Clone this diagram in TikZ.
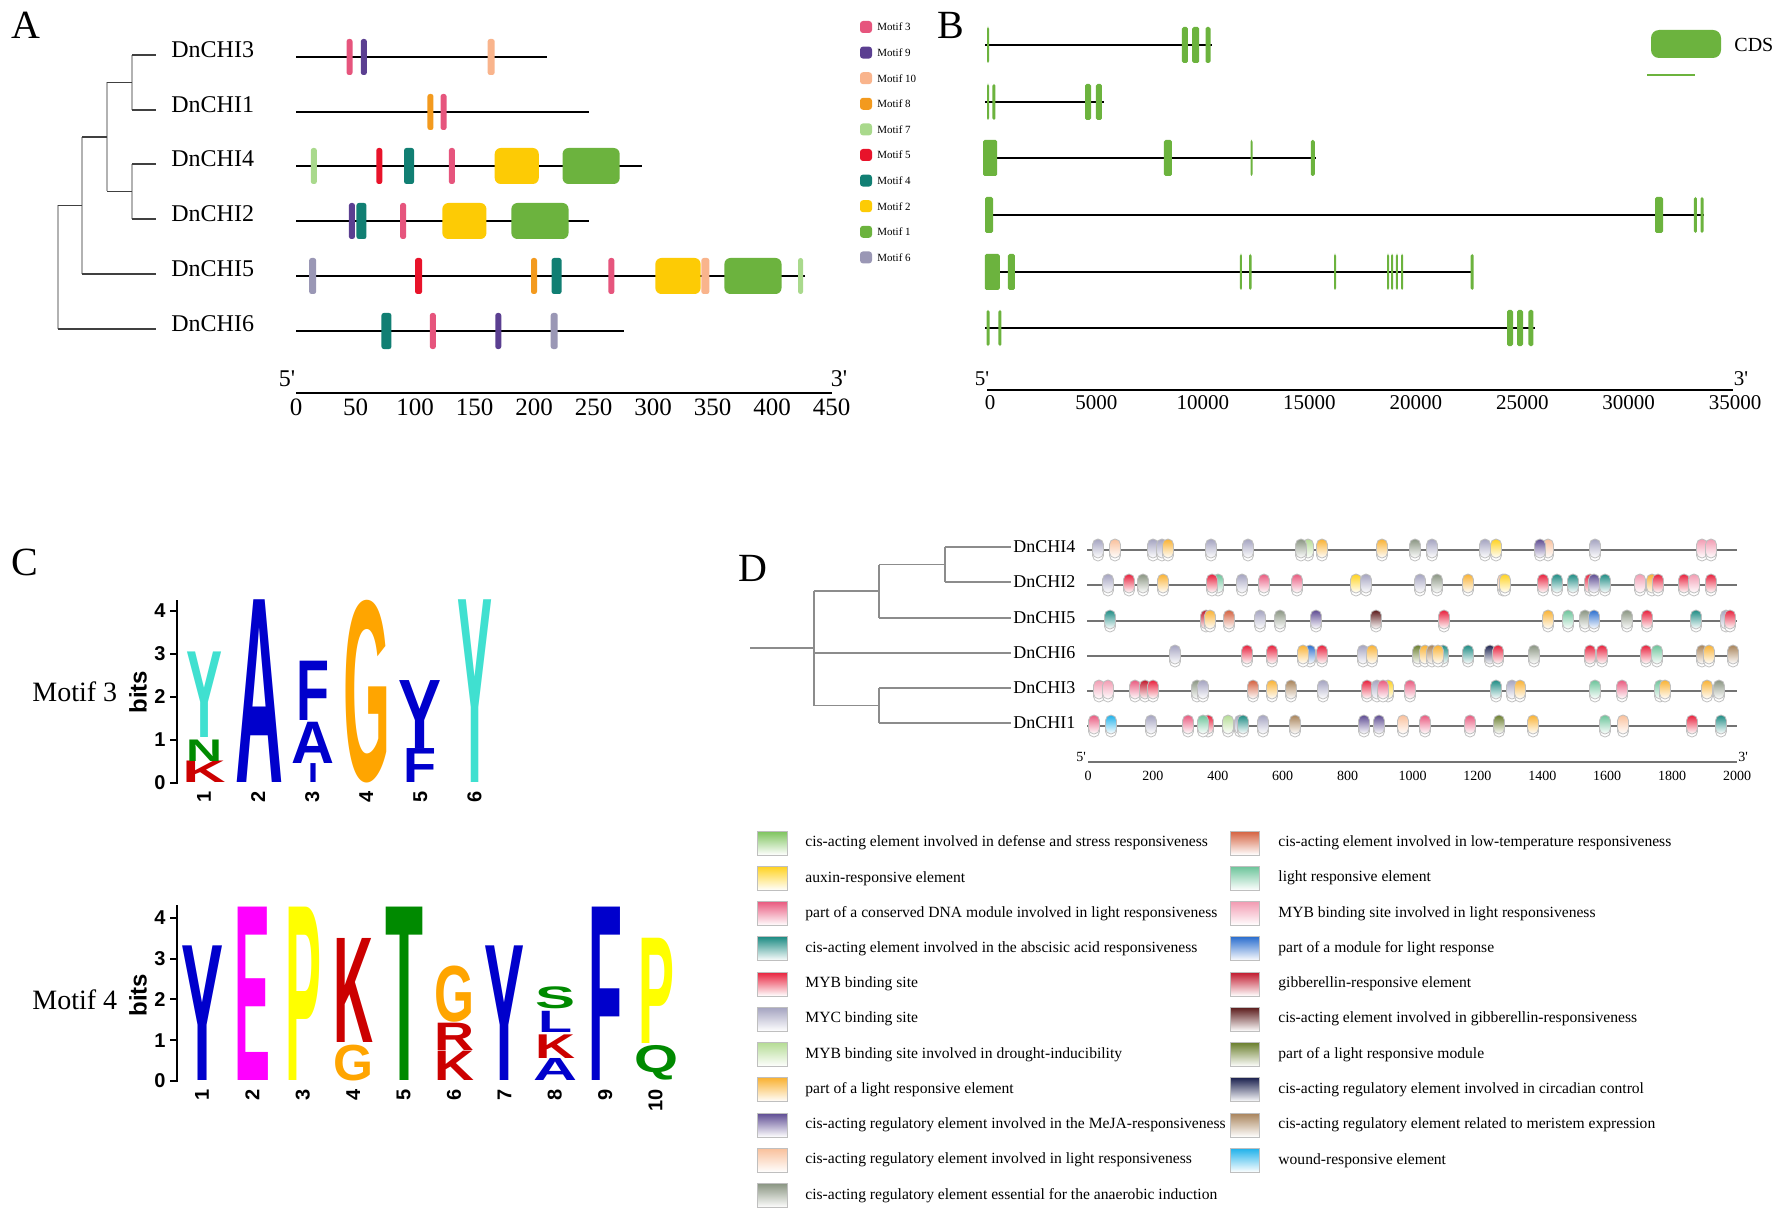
\documentclass[tikz,border=0pt]{standalone}
\usepackage{fontspec}
\setmainfont{Liberation Serif}
\setsansfont{Liberation Sans}
\usepackage{graphicx}
\usetikzlibrary{positioning}

% motif colours (panel A)
\definecolor{mone}{HTML}{6CB33E}
\definecolor{mtwo}{HTML}{FDCB05}
\definecolor{mthree}{HTML}{E6557D}
\definecolor{mfour}{HTML}{117F73}
\definecolor{mfive}{HTML}{E8132A}
\definecolor{msix}{HTML}{9A97B5}
\definecolor{mseven}{HTML}{A9D98C}
\definecolor{meight}{HTML}{F39A1E}
\definecolor{mnine}{HTML}{5B3F91}
\definecolor{mten}{HTML}{F9B48C}
% logo colours (panel C)
\definecolor{lred}{HTML}{CC0000}
\definecolor{lgreen}{HTML}{008A00}
\definecolor{lblue}{HTML}{0000CC}
\definecolor{lcyan}{HTML}{40E0D0}
\definecolor{lorange}{HTML}{FFA500}
\definecolor{lmag}{HTML}{FF00FF}
\definecolor{lyellow}{HTML}{FFFF00}
% cis-element colours (panel D)
\definecolor{dDef}{HTML}{7CC35B}
\definecolor{dAux}{HTML}{FFD21F}
\definecolor{dDNA}{HTML}{E95A7F}
\definecolor{dABA}{HTML}{1E8C84}
\definecolor{dMYB}{HTML}{E8203C}
\definecolor{dMYC}{HTML}{A4A3C0}
\definecolor{dDrought}{HTML}{B5DC95}
\definecolor{dLRE}{HTML}{F9B233}
\definecolor{dMeJA}{HTML}{5D4B92}
\definecolor{dLight}{HTML}{F9C09B}
\definecolor{dAnae}{HTML}{8A9582}
\definecolor{dLowT}{HTML}{D4603E}
\definecolor{dLR}{HTML}{6CC49A}
\definecolor{dMYBL}{HTML}{F29BB2}
\definecolor{dMod}{HTML}{2C6FCF}
\definecolor{dGA}{HTML}{C0172B}
\definecolor{dGAr}{HTML}{5A1A1A}
\definecolor{dLRM}{HTML}{6B7F2E}
\definecolor{dCirc}{HTML}{1D2350}
\definecolor{dMer}{HTML}{A8835A}
\definecolor{dWound}{HTML}{1FB1EA}

\tikzset{
    panel/.style={inner sep=0pt, font=\fontsize{20}{22}\selectfont},
    treeh/.style={draw=black!75, line width=0.75pt},
    treev/.style={draw=black!30, line width=0.75pt},
    alab/.style={anchor=west, inner sep=0pt, font=\fontsize{12}{14}\selectfont},
    protline/.style={line width=1.25pt},
    geneline/.style={line width=1pt},
    axlab/.style={anchor=north, inner sep=0pt, font=\fontsize{12.5}{14}\selectfont},
    bxlab/.style={anchor=north, inner sep=0pt, font=\fontsize{10.5}{12}\selectfont},
    primes/.style={inner sep=0pt, font=\fontsize{12}{14}\selectfont},
    mlab/.style={anchor=west, inner sep=0pt, font=\fontsize{5.5}{6}\selectfont},
    cds/.style={fill=mone, rounded corners=0.8pt},
    logo/.style={inner sep=0pt, anchor=south, font=\sffamily\bfseries\fontsize{20}{20}\selectfont},
    ticklab/.style={anchor=east, inner sep=0pt, font=\sffamily\bfseries\fontsize{10}{10}\selectfont},
    numlab/.style={rotate=90, anchor=east, inner sep=0pt, font=\sffamily\bfseries\fontsize{10}{10}\selectfont},
    dtree/.style={draw=black!45, line width=0.75pt},
    dline/.style={draw=black!55, line width=1.2pt},
    dlab/.style={anchor=west, inner sep=0pt, font=\fontsize{9}{11}\selectfont},
    dax/.style={anchor=north, inner sep=0pt, font=\fontsize{7}{8}\selectfont},
    leglab/.style={anchor=west, inner sep=0pt, font=\fontsize{7.8}{9}\selectfont}
}

% one cis-element capsule with its faint shadow
\newcommand{\cispill}[3]{%
    \draw[black!25, fill=white, rounded corners=2.7pt] (#1-5.5,#2-7) rectangle (#1+5.5,#2+11);
    \shade[top color=#3, bottom color=white, draw=black!25, rounded corners=2.7pt] (#1-5.5,#2-11) rectangle (#1+5.5,#2+8);
}

\begin{document}
\begin{tikzpicture}[x=0.5pt, y=-0.5pt]
\useasboundingbox (0,0) rectangle (1772,1209);
\fill[white] (0,0) rectangle (1772,1209);

\node[panel] (pa) at (26,25) {A};
\node[panel] (pb) at (951,25) {B};
\node[panel] (pc) at (25,562) {C};
\node[panel] (pd) at (753,568) {D};

% ---------------- A: tree
\coordinate (a3) at (156,55);
\coordinate (a1) at (156,110);
\coordinate (a4) at (156,164);
\coordinate (a2) at (156,219);
\coordinate (a5) at (156,274);
\coordinate (a6) at (156,329);
\coordinate (n31) at (132,82.5);
\coordinate (n42) at (132,191.5);
\coordinate (n14) at (107,137);
\coordinate (n5) at (82,205.5);
\coordinate (n6) at (58,267);
\draw[treev] (n31 |- a3) -- (n31 |- a1);
\draw[treev] (n42 |- a4) -- (n42 |- a2);
\draw[treev] (n14 |- n31) -- (n14 |- n42);
\draw[treev] (n5 |- n14) -- (n5 |- a5);
\draw[treev] (n6 |- n5) -- (n6 |- a6);
\foreach \a/\b in {n31/a3, n31/a1, n42/a4, n42/a2, n5/a5, n6/a6, n14/n31, n14/n42, n5/n14, n6/n5}
    \draw[treeh] (\a |- \b) -- (\b);

\foreach \n/\y in {3/50, 1/105, 4/159, 2/214, 5/269, 6/324}
    \node[alab] (la\n) at (171,\y) {DnCHI\n};

% ---------------- A: proteins and motifs
\foreach \y/\len in {57/211, 112/246, 166/291, 221/246, 276/428, 331/276}
    \draw[protline] (296,\y) -- (296+1.19*\len,\y);

\foreach \y/\s/\e/\col in {166/167/204/mtwo, 166/224/272/mone, 221/123/160/mtwo, 221/181/229/mone,
                           276/302/340/mtwo, 276/360/408/mone}
    \fill[\col, rounded corners=3pt] (296+1.19*\s,\y-18) rectangle (296+1.19*\e,\y+18);

\foreach \y/\p/\w/\col in {57/45/6/mthree, 57/57/6/mnine, 57/164/7/mten,
                           112/113/6/meight, 112/124/6/mthree,
                           166/15/6/mseven, 166/70/6/mfive, 166/95/10/mfour, 166/131/6/mthree,
                           221/47/6/mnine, 221/55/10/mfour, 221/90/6/mthree,
                           276/14/7/msix, 276/103/7/mfive, 276/200/6/meight, 276/219/10/mfour,
                           276/265/6/mthree, 276/344/8/mten, 276/424/5/mseven,
                           331/76/10/mfour, 331/115/6/mthree, 331/170/6/mnine, 331/217/7/msix}
    \fill[\col, rounded corners=1.2pt] (296+1.19*\p-\w/2,\y-18) rectangle ++(\w,36);

% A: scale
\draw[protline] (296,393) -- (832,393);
\foreach \v in {0,50,...,450}
    \node[axlab] (ax\v) at (296+1.19*\v,398) {\v};
\node[primes] (a5p) at (287,379) {5\textquotesingle};
\node[primes] (a3p) at (839,379) {3\textquotesingle};

% A: motif legend
\foreach \t/\col [count=\i from 0] in {3/mthree, 9/mnine, 10/mten, 8/meight, 7/mseven,
                                       5/mfive, 4/mfour, 2/mtwo, 1/mone, 6/msix} {
    \fill[\col, rounded corners=1.5pt] (860,27+25.6*\i-6) rectangle ++(12,12);
    \node[mlab] (ml\t) at (877,27+25.6*\i) {Motif \t};
}

% ---------------- B: gene structures (positions in kb)
\foreach \y/\len in {45/10.5, 102/5.45, 158/15.39, 215/33.63, 272/22.78, 328/25.69}
    \draw[geneline] (985,\y) -- (988+21.29*\len,\y);

\foreach \y/\p/\w in {45/0/2, 45/9.25/6, 45/9.755/7, 45/10.333/5,
                      102/0/2, 102/0.28/3, 102/4.7/6, 102/5.21/6,
                      158/0.1/14, 158/8.45/8, 158/12.38/2, 158/15.255/4,
                      215/0.05/8, 215/31.52/8, 215/33.23/3, 215/33.54/3,
                      272/0.2/15, 272/1.1/7, 272/11.88/2, 272/12.32/2.5, 272/16.3/2,
                      272/18.79/2, 272/18.98/2, 272/19.21/2, 272/19.45/2, 272/22.74/3,
                      328/0/3, 328/0.56/3, 328/24.52/6, 328/24.99/6, 328/25.5/5}
    \fill[cds] (988+21.29*\p-\w/2,\y-18) rectangle ++(\w,36);

\fill[mone, rounded corners=4pt] (1651,30) rectangle (1721,58);
\node[anchor=west, inner sep=0pt, font=\fontsize{10}{12}\selectfont] (cds) at (1734,45) {CDS};
\draw[mone, line width=1pt] (1647,75) -- (1695,75);

% B: scale
\draw[geneline] (987,390) -- (1733,390);
\foreach \v/\t in {0/0, 5/5000, 10/10000, 15/15000, 20/20000, 25/25000, 30/30000, 35/35000}
    \node[bxlab] (bx\v) at (990+21.29*\v,395) {\t};
\node[primes, font=\fontsize{10.5}{12}\selectfont] (b5p) at (982,379) {5\textquotesingle};
\node[primes, font=\fontsize{10.5}{12}\selectfont] (b3p) at (1741,379) {3\textquotesingle};

% ---------------- C: motif logos
\node[anchor=west, inner sep=0pt, font=\fontsize{14}{16}\selectfont] (motthree) at (32,692) {Motif 3};
\node[rotate=90, inner sep=0pt, font=\sffamily\bfseries\fontsize{12}{12}\selectfont] (bitsthree) at (138,692) {bits};
\draw[line width=1.3pt] (177,784) -- (177,600);
\foreach \k in {0,...,4} {
    \draw[line width=1pt] (170,783-43*\k) -- (177,783-43*\k);
    \node[ticklab] (tt\k) at (166,783-43*\k) {\k};
}
\foreach \i in {1,...,6}
    \node[numlab] (xt\i) at ({204+54.1*(\i-1)},791) {\i};
\foreach \x/\w/\b/\t/\col/\L in {204/43/0/0.5/lred/K, 204/36/0.5/1.0/lgreen/N, 204/36/1.04/3.03/lcyan/Y,
                                 259/48/0/4.25/lblue/A,
                                 313/10/0/0.44/lblue/I, 313/43/0.45/1.41/lblue/A, 313/33/1.45/2.83/lblue/F,
                                 367/47/0/4.25/lorange/G,
                                 420/33/0/0.79/lblue/F, 420/43/0.8/2.38/lblue/Y,
                                 475/35/0/4.25/lcyan/Y} {
    \pgfmathsetmacro\hh{(\t-\b)*43*0.5}
    \pgfmathsetmacro\yy{783-\b*43}
    \pgfmathsetmacro\ww{\w*0.5}
    \node[logo, text=\col] (lt\x\L) at (\x,\yy) {\resizebox*{\ww pt}{\hh pt}{\L}};
}

\node[anchor=west, inner sep=0pt, font=\fontsize{14}{16}\selectfont] (motfour) at (32,1000) {Motif 4};
\node[rotate=90, inner sep=0pt, font=\sffamily\bfseries\fontsize{12}{12}\selectfont] (bitsfour) at (138,995) {bits};
\draw[line width=1.3pt] (177,1082) -- (177,905);
\foreach \k in {0,...,4} {
    \draw[line width=1pt] (170,1081-40.8*\k) -- (177,1081-40.8*\k);
    \node[ticklab] (tf\k) at (166,1081-40.8*\k) {\k};
}
\foreach \i in {1,...,10}
    \node[numlab] (xf\i) at ({202+50.4*(\i-1)},1089) {\i};
\foreach \x/\w/\b/\t/\col/\L in {202/42/0/3.3/lblue/Y,
                                 252/36/0/4.25/lmag/E,
                                 303/36/0/4.25/lyellow/P,
                                 353/40/0/0.88/lorange/G, 353/40/0.93/3.48/lred/K,
                                 404/38/0/4.25/lgreen/T,
                                 454/40/0/0.72/lred/K, 454/40/0.73/1.4/lred/R, 454/40/1.42/2.8/lorange/G,
                                 504/40/0/3.3/lblue/Y,
                                 555/44/0/0.54/lblue/A, 555/40/0.55/1.13/lred/K, 555/34/1.18/1.7/lblue/L,
                                 555/40/1.76/2.3/lgreen/S,
                                 605/34/0/4.25/lblue/F,
                                 656/44/0/0.85/lgreen/Q, 656/36/0.9/3.48/lyellow/P} {
    \pgfmathsetmacro\hh{(\t-\b)*40.8*0.5}
    \pgfmathsetmacro\yy{1081-\b*40.8}
    \pgfmathsetmacro\ww{\w*0.5}
    \node[logo, text=\col] (lf\x\L) at (\x,\yy) {\resizebox*{\ww pt}{\hh pt}{\L}};
}

% ---------------- D: tree
\coordinate (d4) at (1011,547);
\coordinate (d2) at (1011,582);
\coordinate (d5) at (1011,618);
\coordinate (d6) at (1011,653);
\coordinate (d3) at (1011,688);
\coordinate (d1) at (1011,723);
\coordinate (e42) at (945,564.5);
\coordinate (e425) at (879,591);
\coordinate (e31) at (879,705.5);
\coordinate (eroot) at (814,648);
\coordinate (dstem) at (750,648);
\draw[dtree] (e42 |- d4) -- (e42 |- d2);
\draw[dtree] (e425 |- e42) -- (e425 |- d5);
\draw[dtree] (e31 |- d3) -- (e31 |- d1);
\draw[dtree] (eroot |- e425) -- (eroot |- e31);
\foreach \a/\b in {e42/d4, e42/d2, e425/d5, eroot/d6, e31/d3, e31/d1, e425/e42, eroot/e425, eroot/e31}
    \draw[dtree] (\a |- \b) -- (\b);
\draw[dtree] (dstem) -- (eroot);

\foreach \n/\y in {4/547, 2/582, 5/618, 6/653, 3/688, 1/723}
    \node[dlab] (ld\n) at (1013,\y) {DnCHI\n};

% D: promoters
\foreach \y in {550,585,621,656,691,726}
    \draw[dline] (1087,\y) -- (1737,\y);

\foreach \x/\col in {1098/dMYC, 1115/dLight, 1153/dMYC, 1162/dMYC, 1168/dLRE, 1211/dMYC, 1248/dMYC,
                     1308/dDrought, 1301/dAnae, 1322/dLRE, 1382/dLRE, 1415/dAnae, 1432/dMYC, 1485/dMYC,
                     1496/dAux, 1548/dLight, 1540/dMeJA, 1595/dMYC, 1702/dMYBL, 1711/dMYBL}
    \cispill{\x}{550}{\col};
\foreach \x/\col in {1108/dMYC, 1129/dMYB, 1143/dAnae, 1163/dLRE, 1218/dLR, 1212/dMYB, 1242/dMYC,
                     1264/dDNA, 1297/dDNA, 1356/dAux, 1366/dMYC, 1420/dMYC, 1437/dAnae, 1468/dLRE,
                     1503/dLight, 1505/dAux, 1557/dABA, 1543/dMYB, 1573/dABA, 1590/dMYB, 1594/dMeJA,
                     1605/dABA, 1640/dMYBL, 1652/dLRE, 1658/dMYB, 1684/dMYB, 1694/dMYBL, 1711/dMYB}
    \cispill{\x}{585}{\col};
\foreach \x/\col in {1110/dABA, 1206/dGA, 1210/dLRE, 1229/dLowT, 1260/dMYC, 1280/dAnae, 1316/dMeJA,
                     1376/dGAr, 1444/dMYB, 1548/dLRE, 1568/dLR, 1585/dAnae, 1594/dMod, 1627/dAnae,
                     1647/dMYB, 1696/dABA, 1726/dMYC, 1730/dMYB}
    \cispill{\x}{621}{\col};
\foreach \x/\col in {1175/dMYC, 1247/dMYB, 1272/dMYB, 1310/dMod, 1303/dLRE, 1322/dMYB, 1363/dMYC,
                     1372/dLRE, 1418/dLRM, 1425/dLRE, 1443/dABA, 1432/dMer, 1438/dLRE, 1468/dABA,
                     1490/dCirc, 1498/dMYB, 1534/dAnae, 1590/dMYB, 1602/dMYB, 1646/dMYB, 1657/dLR,
                     1702/dMer, 1709/dLRE, 1733/dMer}
    \cispill{\x}{656}{\col};
\foreach \x/\col in {1099/dMYBL, 1108/dMYBL, 1135/dDNA, 1145/dGA, 1153/dMYB, 1197/dAnae, 1203/dMYC,
                     1253/dLowT, 1272/dLRE, 1291/dMer, 1323/dMYC, 1367/dMYB, 1377/dMYC, 1388/dAux,
                     1383/dDNA, 1410/dDNA, 1496/dABA, 1512/dMYC, 1520/dLRE, 1595/dLR, 1622/dDNA,
                     1660/dLR, 1665/dLRE, 1707/dLRE, 1719/dAnae}
    \cispill{\x}{691}{\col};
\foreach \x/\col in {1094/dDNA, 1111/dWound, 1151/dMYC, 1188/dDNA, 1208/dMYB, 1203/dLR, 1228/dDrought,
                     1240/dMYC, 1243/dABA, 1263/dMYC, 1295/dMer, 1364/dMeJA, 1379/dMeJA, 1403/dLight,
                     1425/dDNA, 1470/dDNA, 1499/dLRM, 1533/dLRE, 1605/dLR, 1623/dLight, 1692/dMYB,
                     1721/dABA}
    \cispill{\x}{726}{\col};

% D: scale
\draw[dline, line width=0.8pt] (1088,762) -- (1737,762);
\foreach \v in {0,200,...,2000}
    \node[dax] (dx\v) at (1088+0.3245*\v,771) {\v};
\node[inner sep=0pt, font=\fontsize{7}{8}\selectfont] (d5p) at (1081,757) {5\textquotesingle};
\node[inner sep=0pt, font=\fontsize{7}{8}\selectfont] (d3p) at (1743,757) {3\textquotesingle};

% D: element legend
\foreach \t/\col [count=\i from 0] in {cis-acting element involved in defense and stress responsiveness/dDef,
        auxin-responsive element/dAux,
        part of a conserved DNA module involved in light responsiveness/dDNA,
        cis-acting element involved in the abscisic acid responsiveness/dABA,
        MYB binding site/dMYB,
        MYC binding site/dMYC,
        MYB binding site involved in drought-inducibility/dDrought,
        part of a light responsive element/dLRE,
        cis-acting regulatory element involved in the MeJA-responsiveness/dMeJA,
        cis-acting regulatory element involved in light responsiveness/dLight,
        cis-acting regulatory element essential for the anaerobic induction/dAnae} {
    \shade[top color=\col, bottom color=white, draw=black!25] (757,843+35.25*\i-12) rectangle (787,843+35.25*\i+12);
    \node[leglab] (ll\i) at (805,843+35.25*\i) {\t};
}
\foreach \t/\col [count=\i from 0] in {cis-acting element involved in low-temperature responsiveness/dLowT,
        light responsive element/dLR,
        MYB binding site involved in light responsiveness/dMYBL,
        part of a module for light response/dMod,
        gibberellin-responsive element/dGA,
        cis-acting element involved in gibberellin-responsiveness/dGAr,
        part of a light responsive module/dLRM,
        cis-acting regulatory element involved in circadian control/dCirc,
        cis-acting regulatory element related to meristem expression/dMer,
        wound-responsive element/dWound} {
    \shade[top color=\col, bottom color=white, draw=black!25] (1230,843+35.25*\i-12) rectangle (1259,843+35.25*\i+12);
    \node[leglab] (rl\i) at (1278,843+35.25*\i) {\t};
}
\end{tikzpicture}
\end{document}
